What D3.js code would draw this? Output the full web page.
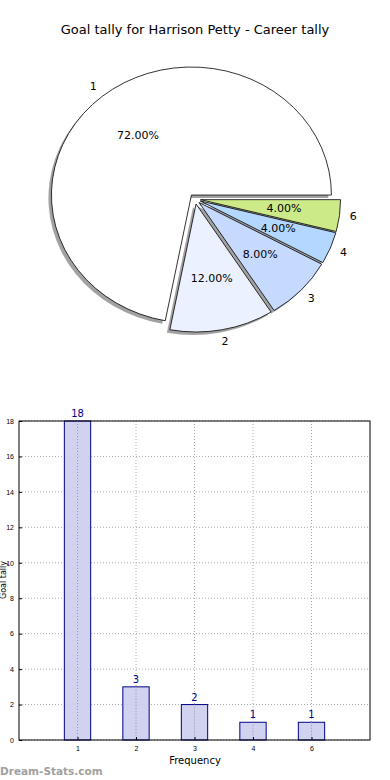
<!doctype html>
<html lang="en">
<head>
    <meta charset="utf-8">
    <title>Goal tally for Harrison Petty</title>
    <script src="https://d3js.org/d3.v7.min.js"></script>
    <style>
        body { margin: 0; background: #fff; }
        svg { display: block; font-family: "DejaVu Sans", sans-serif; }
        .axis path { display: none; }
        .axis line { stroke: #000; }
        .axis text { font-size: 7px; fill: #000; }
    </style>
</head>
<body>
<script>
    // data
    const categories = ['1', '2', '3', '4', '6'];
    const tallies = [18, 3, 2, 1, 1];
    const yTicks = [0, 2, 4, 6, 8, 10, 12, 14, 16, 18];
    const sliceColors = ['#ffffff', '#ebf1ff', '#c6d9ff', '#b3d7ff', '#ccea88'];

    let width = 390, height = 780;
    let svg = d3.select('body').append('svg')
        .attr('width', width).attr('height', height);

    svg.append('text')
        .attr('x', 195).attr('y', 34)
        .attr('text-anchor', 'middle')
        .style('font-size', '13px')
        .text('Goal tally for Harrison Petty - Career tally');

    // ---- pie (counter-clockwise from east, elliptical like the original) ----
    let cx = 195, cy = 199, rx = 140, ry = 128, explode = 0.04;
    let total = d3.sum(tallies);
    let pie = d3.pie().sort(null).value(d => d)
        .startAngle(Math.PI / 2).endAngle(Math.PI / 2 - 2 * Math.PI);
    let arcs = pie(tallies);
    let arc = d3.arc().innerRadius(0).outerRadius(1);

    // d3 angle a (clockwise from north) -> unit point
    function pt(a, k) { return [Math.sin(a) * k, -Math.cos(a) * k]; }

    let pieG = svg.append('g');
    let slices = arcs.map((d, i) => {
        let mid = (d.startAngle + d.endAngle) / 2;
        let off = pt(mid, explode);
        return { d: d, i: i, mid: mid, ox: cx + off[0] * rx, oy: cy + off[1] * ry };
    });
    let sliceArc = s => arc({ startAngle: Math.min(s.d.startAngle, s.d.endAngle), endAngle: Math.max(s.d.startAngle, s.d.endAngle) });

    // shadows first
    pieG.selectAll('path.shadow').data(slices).enter().append('path')
        .attr('class', 'shadow')
        .attr('transform', s => `translate(${s.ox - 3}, ${s.oy + 3}) scale(${rx}, ${ry})`)
        .attr('d', sliceArc)
        .style('fill', '#555')
        .style('fill-opacity', 0.55);

    pieG.selectAll('path.slice').data(slices).enter().append('path')
        .attr('class', 'slice')
        .attr('transform', s => `translate(${s.ox}, ${s.oy}) scale(${rx}, ${ry})`)
        .attr('d', sliceArc)
        .style('fill', s => sliceColors[s.i])
        .style('stroke', '#000')
        .style('stroke-width', 0.8)
        .attr('vector-effect', 'non-scaling-stroke');

    pieG.selectAll('text.lbl').data(slices).enter().append('text')
        .attr('class', 'lbl')
        .attr('x', s => s.ox + pt(s.mid, 1.1)[0] * rx)
        .attr('y', s => s.oy + pt(s.mid, 1.1)[1] * ry)
        .attr('text-anchor', 'middle').attr('dominant-baseline', 'middle')
        .style('font-size', '11px')
        .text(s => categories[s.i]);

    pieG.selectAll('text.pct').data(slices).enter().append('text')
        .attr('class', 'pct')
        .attr('x', s => s.ox + pt(s.mid, 0.6)[0] * rx)
        .attr('y', s => s.oy + pt(s.mid, 0.6)[1] * ry)
        .attr('text-anchor', 'middle').attr('dominant-baseline', 'middle')
        .style('font-size', '11px')
        .text(s => (s.d.value / total * 100).toFixed(2) + '%');

    // ---- bar chart ----
    let plotL = 19, plotR = 370, plotT = 421, plotB = 740;
    let x = d3.scaleLinear().domain([-1, categories.length]).range([plotL, plotR]);
    let y = d3.scaleLinear().domain([0, 18]).range([plotB, plotT]);
    let barW = (x(1) - x(0)) * 0.45;

    let grid = svg.append('g').style('stroke', '#aaa').style('stroke-dasharray', '1,2');
    grid.selectAll('line.h').data(yTicks).enter().append('line')
        .attr('x1', plotL).attr('x2', plotR)
        .attr('y1', d => y(d)).attr('y2', d => y(d));
    grid.selectAll('line.v').data(categories).enter().append('line')
        .attr('x1', (d, i) => x(i)).attr('x2', (d, i) => x(i))
        .attr('y1', plotT).attr('y2', plotB);

    svg.selectAll('rect.bar').data(tallies).enter().append('rect')
        .attr('class', 'bar')
        .attr('x', (d, i) => x(i) - barW / 2)
        .attr('y', d => y(d))
        .attr('width', barW)
        .attr('height', d => plotB - y(d))
        .style('fill', '#ccccee')
        .style('fill-opacity', 0.9)
        .style('stroke', '#00008b')
        .style('stroke-width', 1);

    // grid over bars like the original
    svg.selectAll('line.vg').data(categories).enter().append('line')
        .attr('x1', (d, i) => x(i)).attr('x2', (d, i) => x(i))
        .attr('y1', (d, i) => y(tallies[i])).attr('y2', plotB)
        .style('stroke', '#999').style('stroke-dasharray', '1,2');

    svg.selectAll('text.val').data(tallies).enter().append('text')
        .attr('x', (d, i) => x(i))
        .attr('y', d => y(d) - 4)
        .attr('text-anchor', 'middle')
        .style('font-size', '10px')
        .style('fill', '#00008b')
        .text(d => d);

    svg.append('rect')
        .attr('x', plotL).attr('y', plotT)
        .attr('width', plotR - plotL).attr('height', plotB - plotT)
        .style('fill', 'none').style('stroke', '#000').style('stroke-width', 1);

    svg.append('g').attr('class', 'axis')
        .attr('transform', `translate(${plotL},0)`)
        .call(d3.axisLeft(y).tickValues(yTicks).tickSize(-3).tickPadding(5));

    svg.append('g').attr('class', 'axis')
        .attr('transform', `translate(0,${plotB})`)
        .call(d3.axisBottom(x).tickValues(d3.range(categories.length))
            .tickFormat(i => categories[i]).tickSize(-3).tickPadding(6));

    svg.append('text')
        .attr('x', 195).attr('y', 764)
        .attr('text-anchor', 'middle')
        .style('font-size', '10px')
        .text('Frequency');

    svg.append('text')
        .attr('transform', 'translate(6,580) rotate(-90)')
        .attr('text-anchor', 'middle')
        .style('font-size', '8px')
        .text('Goal tally');

    svg.append('text')
        .attr('x', 0).attr('y', 775)
        .style('font-size', '10.5px')
        .style('font-weight', 'bold')
        .style('fill', '#a0a0a0')
        .text('Dream-Stats.com');
</script>
</body>
</html>
